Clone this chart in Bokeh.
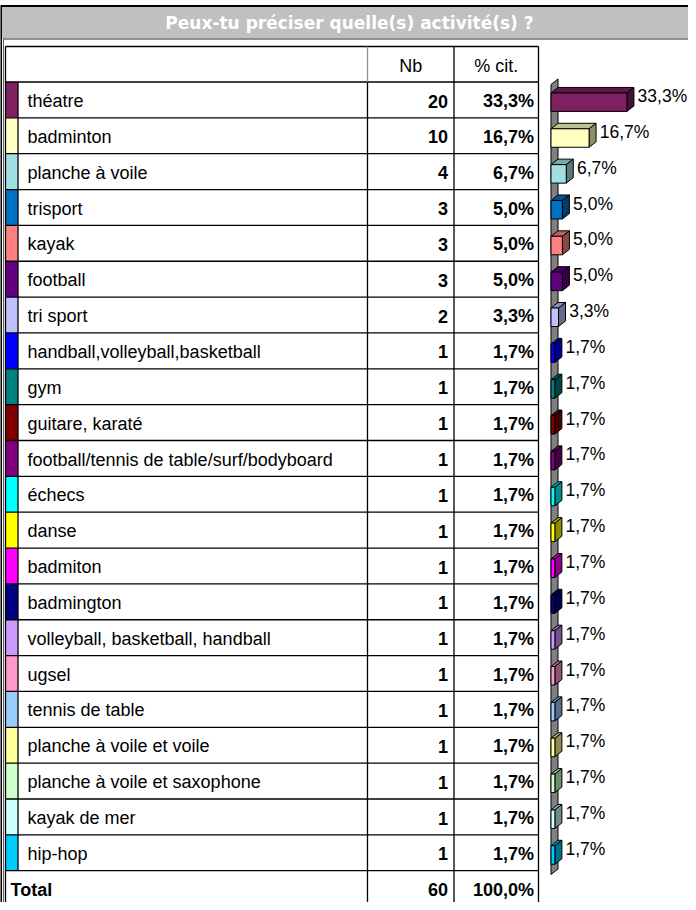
from bokeh.plotting import figure
from bokeh.models import Range1d
from bokeh.core.properties import value
from bokeh.embed import file_html
from bokeh.resources import INLINE

# ---------------- data ----------------
title_text = "Peux-tu préciser quelle(s) activité(s) ?"
categories = ["théatre", "badminton", "planche à voile", "trisport", "kayak", "football",
              "tri sport", "handball,volleyball,basketball", "gym", "guitare, karaté",
              "football/tennis de table/surf/bodyboard", "échecs", "danse", "badmiton",
              "badmington", "volleyball, basketball, handball", "ugsel", "tennis de table",
              "planche à voile et voile", "planche à voile et saxophone", "kayak de mer", "hip-hop"]
counts = [20, 10, 4, 3, 3, 3, 2, 1, 1, 1, 1, 1, 1, 1, 1, 1, 1, 1, 1, 1, 1, 1]
percents = [33.3, 16.7, 6.7, 5.0, 5.0, 5.0, 3.3, 1.7, 1.7, 1.7, 1.7, 1.7, 1.7, 1.7,
            1.7, 1.7, 1.7, 1.7, 1.7, 1.7, 1.7, 1.7]
colors = ["#802060", "#FFFFC0", "#A0E0E0", "#0070C0", "#FF8080", "#600080", "#C0C0FF",
          "#0000FF", "#008080", "#800000", "#800080", "#00FFFF", "#FFFF00", "#FF00FF",
          "#000080", "#CC99FF", "#FF99CC", "#99CCFF", "#FFFF99", "#CCFFCC", "#CCFFFF", "#00CCFF"]
header_labels = ["Nb", "% cit."]
total_label = "Total"
total_count = 60
total_pct = 100.0

# ---------------- layout helpers ----------------
ROW_H = 35.85
ROW0 = 107.425          # page y of first row centre


def Y(py):
    return (py - ROW0) / ROW_H


PX_PER_PCT = 2.28
ZERO_X = 558.5
FONT = value("Liberation Sans")


def fmt_pct(v):
    return ("%.1f%%" % v).replace(".", ",")


def shade(hexcol, f):
    h = hexcol.lstrip("#")
    r, g, b = int(h[0:2], 16), int(h[2:4], 16), int(h[4:6], 16)
    return "#%02x%02x%02x" % (int(r * f), int(g * f), int(b * f))


n = len(categories)
rows = list(range(n))

p = figure(width=688, height=902, x_range=Range1d(8, 696),
           y_range=Range1d(Y(910), Y(8)), output_backend="svg",
           toolbar_location=None, min_border=0, x_axis_type=None, y_axis_type=None)
p.grid.visible = False
p.outline_line_color = None
p.background_fill_color = "white"
p.border_fill_color = "white"
p.extra_x_ranges = {"pct": Range1d(-(ZERO_X - 8) / PX_PER_PCT, (696 - ZERO_X) / PX_PER_PCT)}

# ---------------- frame & title ----------------
p.quad(left=[8], right=[696], top=[Y(14)], bottom=[Y(46)], fill_color="#C0C0C0", line_color=None)
p.segment(x0=[8], x1=[696], y0=[Y(13.5)], y1=[Y(13.5)], line_color="black", line_width=2)
p.segment(x0=[11], x1=[696], y0=[Y(46.5)], y1=[Y(46.5)], line_color="#707070", line_width=1.5)
p.segment(x0=[8.5, 11], x1=[8.5, 11], y0=[Y(13), Y(46)], y1=[Y(910), Y(910)],
          line_color=["black", "#606060"], line_width=[2, 1])
p.text(x=[357], y=[Y(30.5)], text=[title_text], text_font=value("DejaVu Sans"),
       text_font_style="bold", text_font_size="17px", text_color="white",
       text_align="center", text_baseline="middle")

# ---------------- table ----------------
TL, SW, C1, C2, TR = 13, 25.5, 375, 461.5, 546
p.quad(left=TL, right=SW, top=[r - 0.5 for r in rows], bottom=[r + 0.5 for r in rows],
       fill_color=colors, line_color=None)
hy = [Y(54)] + [i - 0.5 for i in range(n + 1)]
p.segment(x0=TL, x1=TR, y0=hy, y1=hy, line_color="black", line_width=1.3)
p.segment(x0=[TL, C2, TR], x1=[TL, C2, TR], y0=Y(54), y1=Y(912), line_color="black", line_width=1.3)
p.segment(x0=[C1], x1=[C1], y0=[Y(54)], y1=[-0.5], line_color="#909090", line_width=1.3)
p.segment(x0=[C1], x1=[C1], y0=[-0.5], y1=[Y(912)], line_color="black", line_width=1.3)
p.segment(x0=[SW], x1=[SW], y0=[-0.5], y1=[n - 0.5], line_color="black", line_width=1.3)

p.text(x=[(C1 + C2) / 2, (C2 + TR) / 2], y=[Y(73.5)] * 2, text=header_labels, text_font=FONT,
       text_font_size="18px", text_align="center", text_baseline="middle")
p.text(x=35, y=[r + 0.03 for r in rows], text=categories, text_font=FONT, text_font_size="18px",
       text_align="left", text_baseline="middle")
p.text(x=C2 - 6, y=[r + 0.03 for r in rows], text=[str(c) for c in counts], text_font=FONT,
       text_font_size="18px", text_font_style="bold", text_align="right", text_baseline="middle")
p.text(x=TR - 4.5, y=[r + 0.03 for r in rows], text=[fmt_pct(v) for v in percents], text_font=FONT,
       text_font_size="18px", text_font_style="bold", text_align="right", text_baseline="middle")
p.text(x=[18, C2 - 6, TR - 4.5], y=[n + 0.03] * 3,
       text=[total_label, str(total_count), fmt_pct(total_pct)], text_font=FONT,
       text_font_size="18px", text_font_style="bold",
       text_align=["left", "right", "right"], text_baseline="middle")

# ---------------- 3D bars ----------------
DX = 7 / PX_PER_PCT
DY = 5.5 / ROW_H
FT = 7 / ROW_H
FB = 11.5 / ROW_H
# wall
p.patch(x=[0, DX, DX, 0], y=[Y(92), Y(92) - DY, Y(882) - DY, Y(882)], x_range_name="pct",
        fill_color="#808080", line_color="black", line_width=1)
top_xs, top_ys, side_xs, side_ys = [], [], [], []
for r, v in zip(rows, percents):
    t, b = r - FT, r + FB
    top_xs.append([0, DX, v + DX, v])
    top_ys.append([t, t - DY, t - DY, t])
    side_xs.append([v, v + DX, v + DX, v])
    side_ys.append([t, t - DY, b - DY, b])
p.patches(xs=top_xs, ys=top_ys, x_range_name="pct", fill_color=[shade(c, 0.75) for c in colors],
          line_color="black", line_width=1)
p.patches(xs=side_xs, ys=side_ys, x_range_name="pct", fill_color=[shade(c, 0.55) for c in colors],
          line_color="black", line_width=1)
p.quad(left=0, right=percents, top=[r - FT for r in rows], bottom=[r + FB for r in rows],
       x_range_name="pct", fill_color=colors, line_color="black", line_width=1)
p.text(x=[v + DX + 1.6 for v in percents], y=[r - 0.11 for r in rows],
       text=[fmt_pct(v) for v in percents], x_range_name="pct", text_font=FONT,
       text_font_size="17.5px", text_align="left", text_baseline="middle")

open("out.html", "w").write(file_html(p, INLINE))
